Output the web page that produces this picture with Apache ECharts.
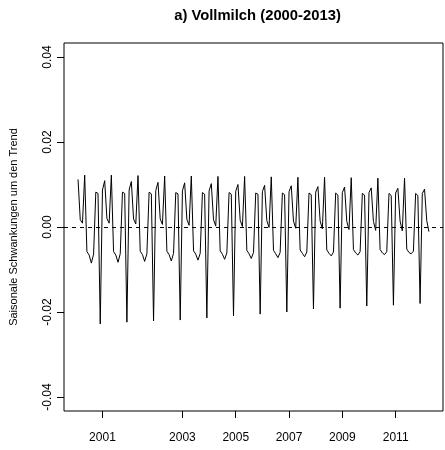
<!DOCTYPE html>
<html>
<head>
<meta charset="utf-8">
<script src="https://cdn.jsdelivr.net/npm/echarts@6/dist/echarts.min.js"></script>
<style>
  html, body { margin: 0; padding: 0; background: #fff; }
  #chart { width: 445px; height: 450px; }
</style>
</head>
<body>
<div id="chart"></div>
<script>
// Seasonal component per year (monthly values)
var y2000 = [0.0112, 0.0017, 0.0009, 0.0122, -0.0058, -0.0066, -0.0085, -0.0064, 0.0082, 0.0079, -0.0228, 0.0087];
var y2001 = [0.0109, 0.0020, 0.0009, 0.0122, -0.0058, -0.0066, -0.0083, -0.0063, 0.0082, 0.0079, -0.0224, 0.0087];
var y2002 = [0.0107, 0.0019, 0.0007, 0.0121, -0.0057, -0.0065, -0.0081, -0.0063, 0.0082, 0.0078, -0.0221, 0.0086];
var y2003 = [0.0105, 0.0019, 0.0006, 0.0120, -0.0057, -0.0065, -0.0080, -0.0062, 0.0081, 0.0078, -0.0219, 0.0085];
var y2004 = [0.0104, 0.0018, 0.0004, 0.0120, -0.0056, -0.0064, -0.0078, -0.0062, 0.0081, 0.0077, -0.0214, 0.0085];
var y2005 = [0.0102, 0.0017, 0.0002, 0.0119, -0.0056, -0.0064, -0.0076, -0.0061, 0.0081, 0.0077, -0.0209, 0.0084];
var y2006 = [0.0100, 0.0016, 0.0001, 0.0119, -0.0055, -0.0063, -0.0074, -0.0060, 0.0080, 0.0077, -0.0205, 0.0083];
var y2007 = [0.0098, 0.0015, -0.0001, 0.0118, -0.0055, -0.0063, -0.0072, -0.0060, 0.0080, 0.0076, -0.0200, 0.0083];
var y2008 = [0.0097, 0.0014, -0.0003, 0.0117, -0.0054, -0.0062, -0.0070, -0.0059, 0.0080, 0.0076, -0.0193, 0.0082];
var y2009 = [0.0095, 0.0014, -0.0004, 0.0117, -0.0054, -0.0062, -0.0068, -0.0059, 0.0080, 0.0075, -0.0191, 0.0081];
var y2010 = [0.0094, 0.0013, -0.0006, 0.0116, -0.0053, -0.0061, -0.0066, -0.0058, 0.0079, 0.0075, -0.0186, 0.0081];
var y2011 = [0.0092, 0.0013, -0.0008, 0.0115, -0.0053, -0.0061, -0.0065, -0.0058, 0.0079, 0.0074, -0.0184, 0.0080];
var y2012 = [0.0091, 0.0014, -0.0009, 0.0115, -0.0052, -0.0060, -0.0063, -0.0057, 0.0079, 0.0074, -0.0180, 0.0079];
var y2013 = [0.0089, 0.0015, -0.0011];

var xTickPositions = [12, 48, 72, 96, 120, 144];
var xTickLabels = ['2001', '2003', '2005', '2007', '2009', '2011'];
var yTickValues = [-0.04, -0.02, 0, 0.02, 0.04];

var years = [y2000, y2001, y2002, y2003, y2004, y2005, y2006, y2007, y2008, y2009, y2010, y2011, y2012, y2013];
var seasonal = [];
years.forEach(function (arr) { arr.forEach(function (v) { seasonal.push(v); }); });
var points = seasonal.map(function (v, i) { return [i + 1, v]; });

var n = seasonal.length;
var span = n - 1;
var xMin = 1 - 0.04 * span;
var xMax = n + 0.04 * span;

var font = '"Liberation Sans", Arial, Helvetica, sans-serif';

var chart = echarts.init(document.getElementById('chart'), null, { renderer: 'canvas' });
chart.setOption({
  animation: false,
  backgroundColor: '#ffffff',
  title: {
    text: 'a) Vollmilch (2000-2013)',
    left: 252.5,
    textAlign: 'center',
    top: 3,
    textStyle: { fontFamily: font, fontSize: 14.8, fontWeight: 'bold', color: '#000' }
  },
  grid: {
    left: 62, right: 2, top: 43, bottom: 39,
    show: true, borderColor: '#000', borderWidth: 1, backgroundColor: 'transparent'
  },
  xAxis: {
    type: 'value',
    min: xMin,
    max: xMax,
    axisLine: { show: false, onZero: false },
    splitLine: { show: false },
    axisTick: {
      show: true, inside: false, length: 7,
      customValues: xTickPositions,
      lineStyle: { color: '#000', width: 1 }
    },
    axisLabel: {
      show: true,
      margin: 21,
      customValues: xTickPositions,
      fontFamily: font, fontSize: 12, color: '#000',
      formatter: function (v) {
        var idx = xTickPositions.indexOf(Math.round(v));
        return idx >= 0 ? xTickLabels[idx] : '';
      }
    }
  },
  yAxis: {
    type: 'value',
    min: -0.0433,
    max: 0.0433,
    name: 'Saisonale Schwankungen um den Trend',
    nameLocation: 'middle',
    nameGap: 45,
    nameRotate: 90,
    nameTextStyle: { fontFamily: font, fontSize: 11, color: '#000' },
    axisLine: { show: false, onZero: false },
    splitLine: { show: false },
    axisTick: {
      show: true, inside: false, length: 7,
      customValues: yTickValues,
      lineStyle: { color: '#000', width: 1 }
    },
    axisLabel: {
      show: true,
      rotate: 90,
      margin: 10,
      customValues: yTickValues,
      fontFamily: font, fontSize: 12, color: '#000',
      formatter: function (v) { return v.toFixed(2); }
    }
  },
  series: [{
    type: 'line',
    data: points,
    showSymbol: false,
    symbol: 'none',
    lineStyle: { color: '#000', width: 1 },
    markLine: {
      silent: true,
      symbol: ['none', 'none'],
      label: { show: false },
      lineStyle: { color: '#000', width: 1, type: [4, 4] },
      data: [{ yAxis: 0 }]
    }
  }]
});
</script>
</body>
</html>
